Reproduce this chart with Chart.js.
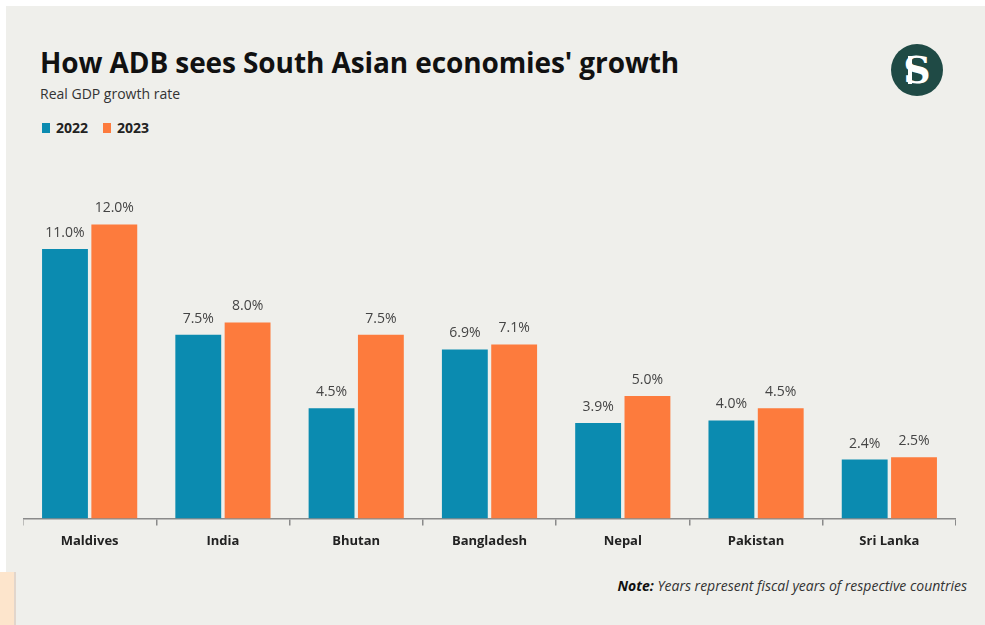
<!DOCTYPE html>
<html>
<head>
<meta charset="utf-8">
<script src="https://cdn.jsdelivr.net/npm/chart.js@4.4.1/dist/chart.umd.min.js"></script>
<style>
  html, body { margin: 0; padding: 0; background: #fff; }
  body { width: 985px; height: 625px; position: relative; overflow: hidden; font-family: 'Open Sans', sans-serif; }
  .panel { position: absolute; left: 6px; top: 6px; width: 979px; height: 619px; background: #efefeb; }
  .tint { position: absolute; left: 0; top: 572px; width: 14px; height: 53px; background: #fde5cc; border-right: 2px solid #e2d6cc; }
  h1 { position: absolute; left: 40px; top: 43px; margin: 0; font-size: 28px; font-weight: 700; color: #111; letter-spacing: -0.1px; }
  .sub { position: absolute; left: 40px; top: 84px; font-size: 14px; color: #333; }
  .legend { position: absolute; left: 42px; top: 118px; font-size: 14px; font-weight: 700; color: #222; display: flex; align-items: center; }
  .legend span.box { display: inline-block; width: 8px; height: 10px; margin-right: 6px; }
  .legend span.lab { margin-right: 15px; }
  .logo { position: absolute; left: 891px; top: 44px; width: 52px; height: 52px; border-radius: 50%; background: #1f4a45; color: #fff; font-family: 'DejaVu Serif', serif; font-weight: 700; font-size: 38px; line-height: 52px; text-align: center; }
  .logo i { position: absolute; left: 17px; top: 12px; width: 4px; height: 28px; background: #fff; }
  .note { position: absolute; right: 18px; top: 576px; font-size: 14px; font-style: italic; color: #333; }
  .note b { color: #111; }
  #wrap { position: absolute; left: 23px; top: 150px; width: 933px; height: 475px; }
</style>
</head>
<body>
<div class="panel"></div>
<div class="tint"></div>
<h1>How ADB sees South Asian economies' growth</h1>
<div class="sub">Real GDP growth rate</div>
<div class="legend">
  <span class="box" style="background:#0b8bb0"></span><span class="lab">2022</span>
  <span class="box" style="background:#fd7b3d"></span><span class="lab">2023</span>
</div>
<div class="logo"><i></i>S</div>
<div class="note"><b>Note:</b> Years represent fiscal years of respective countries</div>
<div id="wrap"><canvas id="chart"></canvas></div>
<script>
const countries = ['Maldives', 'India', 'Bhutan', 'Bangladesh', 'Nepal', 'Pakistan', 'Sri Lanka']
const growth2022 = [11.0, 7.5, 4.5, 6.9, 3.9, 4.0, 2.4]
const growth2023 = [12.0, 8.0, 7.5, 7.1, 5.0, 4.5, 2.5]
const years = ['2022', '2023']

const valueLabels = {
    id: 'valueLabels',
    afterDatasetsDraw(chart) {
        const ctx = chart.ctx
        ctx.save()
        ctx.font = '14px "Open Sans"'
        ctx.fillStyle = '#444'
        ctx.textAlign = 'center'
        ctx.textBaseline = 'bottom'
        chart.data.datasets.forEach((ds, i) => {
            chart.getDatasetMeta(i).data.forEach((bar, j) => {
                ctx.fillText(ds.data[j].toFixed(1) + '%', bar.x, bar.y - 9)
            })
        })
        ctx.restore()
    }
}

new Chart(document.getElementById('chart'), {
    type: 'bar',
    data: {
        labels: countries,
        datasets: [
            { label: years[0], data: growth2022, backgroundColor: '#0b8bb0' },
            { label: years[1], data: growth2023, backgroundColor: '#fd7b3d' }
        ]
    },
    options: {
        responsive: true,
        maintainAspectRatio: false,
        animation: false,
        categoryPercentage: 0.74,
        barPercentage: 0.93,
        layout: { padding: { top: 50, bottom: 68 } },
        plugins: {
            legend: { display: false },
            tooltip: { enabled: false }
        },
        scales: {
            y: { display: false, min: 0, max: 13 },
            x: {
                border: { color: '#8a8a8a', width: 1.5 },
                grid: { offset: true, drawOnChartArea: false, tickLength: 7, color: '#8a8a8a', lineWidth: 1.5 },
                ticks: { padding: 8, color: '#222', font: { family: 'Open Sans', size: 13, weight: 'bold' } }
            }
        }
    },
    plugins: [valueLabels]
})
</script>
</body>
</html>
